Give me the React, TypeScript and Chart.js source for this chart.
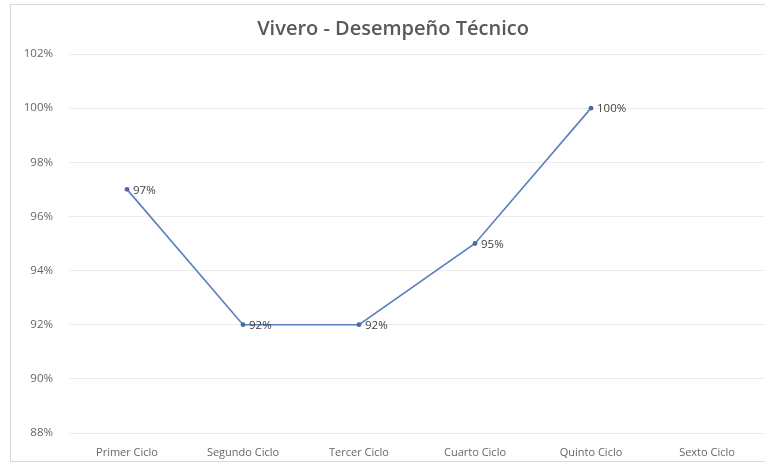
import React, { useEffect, useRef } from "react";
import { Chart, registerables } from "chart.js";

Chart.register(...registerables);

const TITLE = "Vivero - Desempeño Técnico";
const categories = ["Primer Ciclo", "Segundo Ciclo", "Tercer Ciclo", "Cuarto Ciclo", "Quinto Ciclo", "Sexto Ciclo"];
const values: (number | null)[] = [97, 92, 92, 95, 100, null];
const yMin = 88;
const yMax = 102;
const yStep = 2;

const FONT = "'Open Sans', 'Noto Sans', sans-serif";

const framePlugin = {
  id: "frame",
  beforeDraw(chart: any) {
    const ctx = chart.ctx;
    ctx.save();
    ctx.fillStyle = "#ffffff";
    ctx.fillRect(0, 0, chart.width, chart.height);
    ctx.strokeStyle = "#d9d9d9";
    ctx.lineWidth = 1;
    ctx.strokeRect(10.5, 4.5, chart.width, chart.height - 7);
    ctx.fillStyle = "#595959";
    ctx.font = `600 20px ${FONT}`;
    ctx.textAlign = "center";
    ctx.textBaseline = "middle";
    ctx.fillText(TITLE, 393, 29);
    ctx.restore();
  },
};

const labelPlugin = {
  id: "pointLabels",
  afterDatasetsDraw(chart: any) {
    const ctx = chart.ctx;
    const meta = chart.getDatasetMeta(0);
    ctx.save();
    ctx.fillStyle = "#404040";
    ctx.font = `11.5px ${FONT}`;
    ctx.textAlign = "left";
    ctx.textBaseline = "middle";
    meta.data.forEach((pt: any, i: number) => {
      const v = values[i];
      if (v == null) return;
      ctx.fillText(`${v}%`, pt.x + 6, pt.y + 1);
    });
    ctx.restore();
  },
};

export default function App() {
  const ref = useRef<HTMLCanvasElement>(null);
  useEffect(() => {
    document.body.style.margin = "0";
    const chart = new Chart(ref.current!, {
      type: "line",
      data: {
        labels: categories,
        datasets: [
          {
            data: values,
            borderColor: "#5a7fbf",
            backgroundColor: "#4a6aa5",
            borderWidth: 1.6,
            pointRadius: 2.4,
            pointBorderWidth: 0,
            tension: 0,
            clip: false,
          },
        ],
      },
      options: {
        animation: false,
        responsive: false,
        layout: { autoPadding: false, padding: { top: 54, left: 0, right: 0, bottom: 0 } },
        plugins: { legend: { display: false }, title: { display: false }, tooltip: { enabled: false } },
        scales: {
          x: {
            offset: true,
            grid: { display: false, drawTicks: false, offset: true },
            border: { display: false },
            ticks: { color: "#666666", font: { family: FONT, size: 11 }, padding: 13, maxRotation: 0 },
            afterFit(axis: any) {
              axis.height = 31;
              axis.paddingLeft = 0;
              axis.paddingRight = 0;
            },
          },
          y: {
            min: yMin,
            max: yMax,
            grid: { color: "#ececec", drawTicks: false, lineWidth: 1 },
            border: { display: false },
            ticks: {
              stepSize: yStep,
              color: "#666666",
              font: { family: FONT, size: 11.5 },
              padding: 16,
              callback: (v: any) => `${v}%`,
            },
            afterFit(axis: any) {
              axis.width = 69;
            },
          },
        },
      },
      plugins: [framePlugin, labelPlugin],
    });
    return () => chart.destroy();
  }, []);
  return <canvas ref={ref} width={765} height={464} style={{ display: "block" }} />;
}
